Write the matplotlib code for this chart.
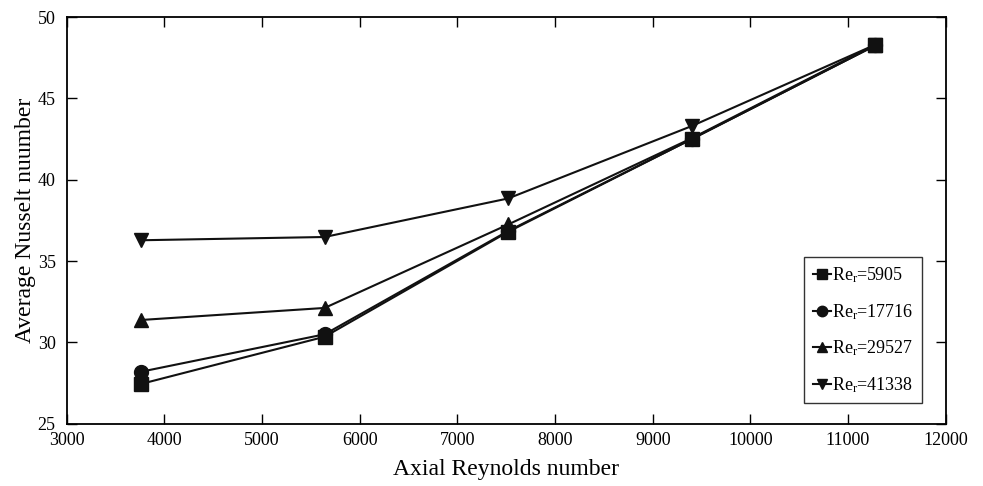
import matplotlib
matplotlib.use("Agg")
import matplotlib.pyplot as plt

plt.rcParams['font.family'] = ['Liberation Serif', 'DejaVu Serif']
plt.rcParams['mathtext.fontset'] = 'custom'
plt.rcParams['mathtext.rm'] = 'Liberation Serif'
plt.rcParams['mathtext.it'] = 'Liberation Serif:italic'

# axial Reynolds numbers
re_axial = [3760, 5640, 7520, 9400, 11280]

# average Nusselt number for each rotational Reynolds number
nu_5905 = [27.45, 30.35, 36.8, 42.5, 48.25]
nu_17716 = [28.2, 30.5, 36.85, 42.5, 48.25]
nu_29527 = [31.38, 32.12, 37.25, 42.55, 48.3]
nu_41338 = [36.28, 36.48, 38.85, 43.3, 48.3]

labels = ["Re$_\\mathrm{r}$=5905", "Re$_\\mathrm{r}$=17716",
          "Re$_\\mathrm{r}$=29527", "Re$_\\mathrm{r}$=41338"]
markers = ['s', 'o', '^', 'v']

fig = plt.figure(figsize=(9.83, 4.86), dpi=100)
ax = fig.add_axes([0.068, 0.128, 0.894, 0.837])

for ys, m, lab in zip([nu_5905, nu_17716, nu_29527, nu_41338], markers, labels):
    ax.plot(re_axial, ys, marker=m, color='#111111', lw=1.5, ms=10, label=lab)

ax.set_xlim(3000, 12000)
ax.set_ylim(25, 50)
ax.set_xticks(range(3000, 12001, 1000))
ax.set_yticks(range(25, 51, 5))
ax.tick_params(direction='in', length=7, width=1, top=True, right=True,
               labelsize=13)
ax.tick_params(axis='y', pad=8)
ax.tick_params(axis='x', pad=6)
for s in ax.spines.values():
    s.set_linewidth(1.3)

ax.set_xlabel("Axial Reynolds number", fontsize=17, labelpad=7)
ax.set_ylabel("Average Nusselt nuumber", fontsize=17, labelpad=1)

leg = ax.legend(loc='lower right', bbox_to_anchor=(0.973, 0.05), fontsize=13,
                handlelength=1.0, handletextpad=0.1, labelspacing=0.95,
                frameon=True, fancybox=False, edgecolor='black',
                borderpad=0.45, borderaxespad=0.0, markerscale=0.75)
leg.get_frame().set_linewidth(1.0)

fig.savefig("out.png", dpi=100)
